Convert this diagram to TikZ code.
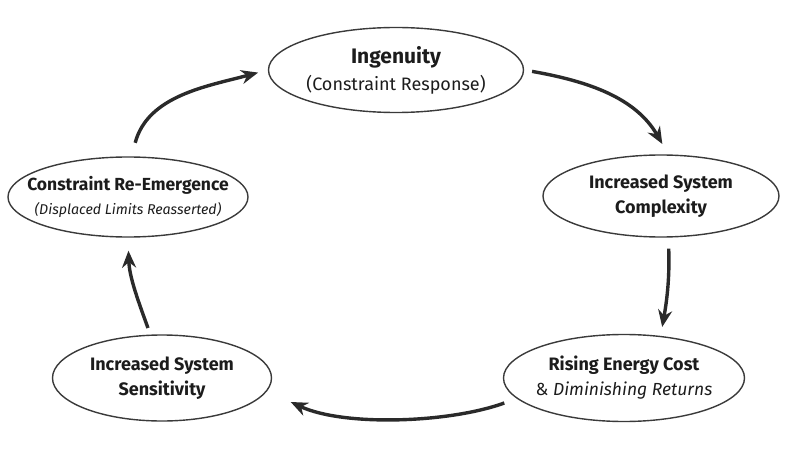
\documentclass[tikz,border=0pt]{standalone}
\usepackage{fontspec}
\setmainfont{Fira Sans}
\usetikzlibrary{shapes.geometric,arrows.meta}

\definecolor{inkline}{HTML}{3A3A3A}
\definecolor{inkarrow}{HTML}{2A2A2A}
\definecolor{inktext}{HTML}{1C1C1C}

\tikzset{phase/.style 2 args = {ellipse, draw = inkline, line width = 1.4pt,
                                minimum width = #1, minimum height = #2, inner sep = 0pt},
         phasetext/.style = {align = center, text = inktext, inner sep = 0pt,
                             font = \fontsize{18}{25}\selectfont},
         cycle/.style = {draw = inkarrow, line width = 3.4pt,
                         -{Stealth[length = 17pt, width = 14pt]}}
        }

\begin{document}
\begin{tikzpicture}[x = 1pt, y = 1pt]
  \useasboundingbox (0,0) rectangle (790,448);

  % the five stages
  \node[phase = {255pt}{85pt},
        label = {[phasetext, font = \fontsize{18}{27}\selectfont]center:{\fontsize{21}{27}\selectfont\bfseries Ingenuity}\\(Constraint Response)}]
        (ingen) at (396,378) {};
  \node[phase = {236pt}{82pt},
        label = {[phasetext]center:\bfseries Increased System\\\bfseries Complexity}]
        (complex) at (661,252) {};
  \node[phase = {241pt}{87pt},
        label = {[phasetext]center:{\bfseries Rising Energy Cost}\\{\fontsize{17.5}{25}\selectfont\& \itshape Diminishing Returns}}]
        (energy) at (624,70) {};
  \node[phase = {219pt}{86pt},
        label = {[phasetext]center:\bfseries Increased System\\\bfseries Sensitivity}]
        (sens) at (162,70) {};
  \node[phase = {240pt}{80pt},
        label = {[phasetext, font = \fontsize{17.5}{24}\selectfont]center:{\bfseries Constraint Re-Emergence}\\{\fontsize{14.2}{24}\selectfont\itshape (Displaced Limits Reasserted)}}]
        (reem) at (128,251) {};

  % the cycle
  \draw[cycle, shorten <= 8pt, shorten >= 12pt]
        (ingen.east) to[out = -10, in = 120] (complex.80);
  \draw[cycle, shorten <= 11pt, shorten >= 9pt]
        (complex.-80) to[out = -88, in = 80] (energy.49);
  \draw[cycle]
        ([xshift = 1.5pt, yshift = -25pt]energy.west) to[out = 200, in = -25, looseness = 0.7]
        ([xshift = 18.5pt, yshift = -24pt]sens.east);
  \draw[cycle, shorten <= 7pt, shorten >= 13pt]
        (sens.105) to[out = 110, in = -88] (reem.south);
  \draw[cycle, shorten <= 14pt, shorten >= 10pt]
        (reem.85) to[out = 75, in = 195] (ingen.west);
\end{tikzpicture}
\end{document}
